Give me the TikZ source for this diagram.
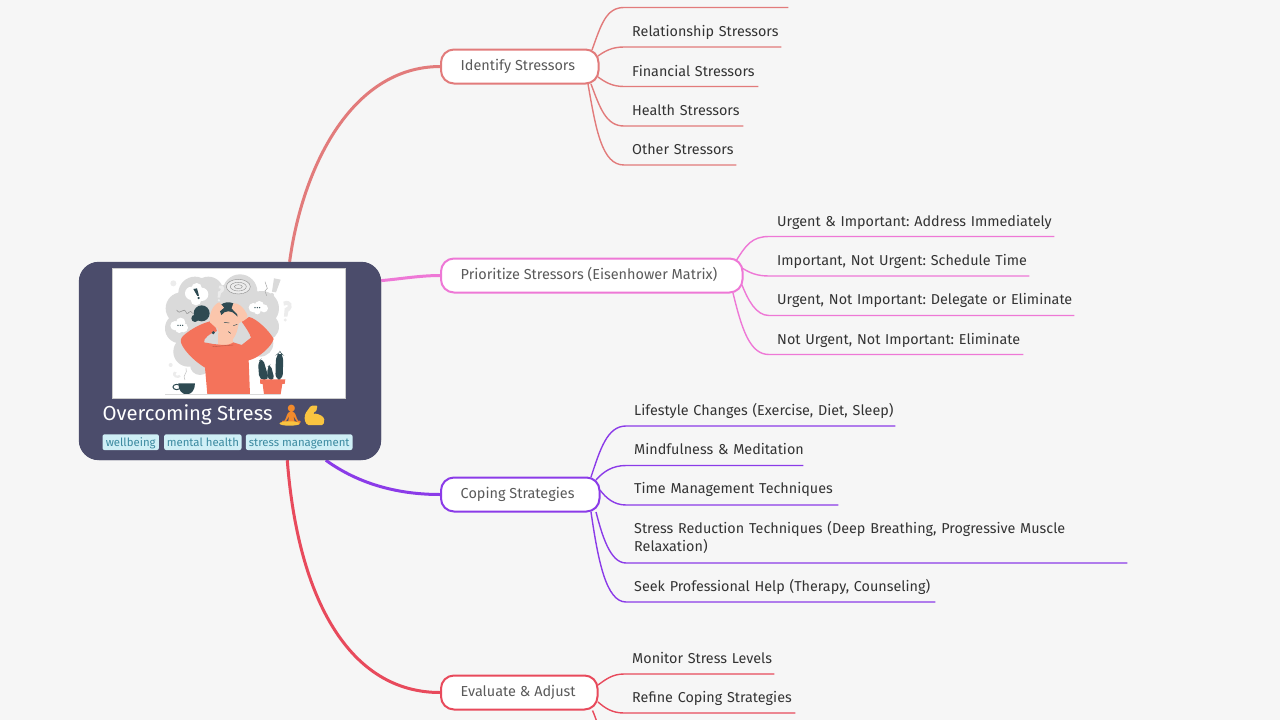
\documentclass[tikz,border=0pt]{standalone}
\usepackage{fontspec}
\setmainfont{Fira Sans}
\newfontfamily\emojifont{Noto Emoji}
\newcommand{\nohy}{\hyphenpenalty=10000 \exhyphenpenalty=10000 \frenchspacing}
\definecolor{bgc}{HTML}{F6F6F6}
\definecolor{rootc}{HTML}{4B4C6B}
\definecolor{cA}{HTML}{E27B7B}
\definecolor{cB}{HTML}{EE78D6}
\definecolor{cC}{HTML}{8B3BE8}
\definecolor{cD}{HTML}{E84A5C}
\definecolor{tagf}{HTML}{CFEFF6}
\definecolor{tagt}{HTML}{3C8AA0}
\definecolor{txt}{HTML}{333333}
\definecolor{btxt}{HTML}{5A5A5A}
\definecolor{cloud}{HTML}{DADADA}
\definecolor{cloudl}{HTML}{ECECEC}
\definecolor{shirt}{HTML}{F4735B}
\definecolor{dark}{HTML}{2E4A52}
\definecolor{skin}{HTML}{FBC6AC}
\definecolor{gold}{HTML}{F9C440}
\definecolor{lotus}{HTML}{F28A2C}
\tikzset{
  x=1pt,y=-1pt,
  branch/.style={draw=#1,line width=2pt,fill=white,rounded corners=13pt,minimum height=34pt,inner sep=0pt,anchor=west},
  btext/.style={anchor=west,inner sep=0pt,font=\fontsize{14.45}{18}\selectfont,text=btxt},
  leaf/.style={anchor=south west,inner xsep=0pt,inner ysep=10.3pt,text depth=0pt,align=left,font=\nohy\fontsize{14.35}{18.5}\selectfont,text=txt},
  leafup/.style={leaf,inner ysep=10.9pt},
  tag/.style={fill=tagf,rounded corners=2pt,inner sep=0pt,minimum height=15.7pt,text height=10.1pt,text depth=1.1pt,text=tagt,font=\fontsize{11.4}{13}\selectfont,anchor=west},
  trunk/.style={line width=3pt,#1},
  twig/.style={line width=1.4pt,#1}
}
\begin{document}
\begin{tikzpicture}
\useasboundingbox (0,0) rectangle (1280,720);
\fill[bgc] (0,0) rectangle (1280,720);
\begin{scope}
\clip (0,0) rectangle (1280,720);
% nodes
\node[fill=rootc,rounded corners=20pt,minimum width=302pt,minimum height=198pt,inner sep=0pt] (root) at (230,361) {};
\node[branch=cA,minimum width=157.5pt] (bA) at (440,66.5) {};
\node[btext] (tA) at (460.5,66) {Identify Stressors};
\node[branch=cB,minimum width=301.5pt] (bB) at (440,275.5) {};
\node[btext] (tB) at (460.5,274.3) {Prioritize Stressors (Eisenhower Matrix)};
\node[branch=cC,minimum width=158.5pt] (bC) at (440,494.5) {};
\node[btext] (tC) at (460.5,494) {Coping Strategies};
\node[branch=cD,minimum width=156.5pt] (bD) at (440,692.5) {};
\node[btext] (tD) at (460.5,692) {Evaluate \& Adjust};
% leaves
\node[leaf,text width=156pt] (a1) at (632,7.5) {};
\node[leaf,text width=149pt] (a2) at (632,47) {\mbox{Relationship Stressors}};
\node[leaf,text width=126pt] (a3) at (632,86.5) {\mbox{Financial Stressors}};
\node[leaf,text width=111pt] (a4) at (632,126) {\mbox{Health Stressors}};
\node[leaf,text width=104pt] (a5) at (632,165) {\mbox{Other Stressors}};
\node[leaf,text width=277pt] (b1) at (777,236.5) {\mbox{Urgent \& Important: Address Immediately}};
\node[leaf,text width=252pt] (b2) at (777,276) {\mbox{Important, Not Urgent: Schedule Time}};
\node[leafup,text width=297pt] (b3) at (777,315.5) {\mbox{Urgent, Not Important: Delegate or Eliminate}};
\node[leaf,text width=246pt] (b4) at (777,354.5) {\mbox{Not Urgent, Not Important: Eliminate}};
\node[leaf,text width=261pt] (c1) at (634,426) {\mbox{Lifestyle Changes (Exercise, Diet, Sleep)}};
\node[leafup,text width=169pt] (c2) at (634,465.5) {\mbox{Mindfulness \& Meditation}};
\node[leafup,text width=204pt] (c3) at (634,505) {\mbox{Time Management Techniques}};
\node[leafup,text width=493pt,text depth=18.5pt] (c4) at (634,563) {\mbox{Stress Reduction Techniques (Deep Breathing, Progressive Muscle}\\Relaxation)};
\node[leaf,text width=301pt] (c5) at (634,602) {\mbox{Seek Professional Help (Therapy, Counseling)}};
\node[leaf,text width=142pt] (d1) at (632,674) {\mbox{Monitor Stress Levels}};
\node[leaf,text width=163pt] (d2) at (632,713) {\mbox{Refine Coping Strategies}};
\coordinate (d3end) at (612,760);
% trunks
\draw[trunk=cA] (root.59.3) .. controls (302,170) and (350,67) .. (bA.west);
\draw[trunk=cB] (root.28.2) .. controls (400,279) and (420,275.5) .. (bB.west);
\draw[trunk=cC] (root.-46) .. controls (360,485) and (400,494.5) .. (bC.west);
\draw[trunk=cD] (root.-60.2) .. controls (298,600) and (350,692.5) .. (bD.west);
% root on top of the trunk ends
\fill[rootc,rounded corners=20pt] (root.north west) rectangle (root.south east);
% twigs
\foreach \n/\c/\sx/\sy/\ax/\ay/\bx/\by in {
 a1/cA/592/50/601/25/606/7.5, a2/cA/598/56/605/51/612/47, a3/cA/598/77/605/82/612/86.5,
 a4/cA/591/84/600/108/606/126, a5/cA/588/84/596/130/602/165,
 b1/cB/736/261/746/245/752/236.5, b2/cB/742/268/750/273/757/276, b3/cB/742/285/748/300/756/315.5, b4/cB/733/293/742/330/750/354.5,
 c1/cC/591/477/600/450/607/426, c2/cC/596/480/603/472/612/465.5, c3/cC/600/490/606/498/614/505, c4/cC/596/512/602/535/610/563, c5/cC/591/512/598/560/606/602,
 d1/cD/598/685/605/680/612/674, d2/cD/598/702/605/708/612/713}
 {\draw[twig=\c] (\sx,\sy) .. controls (\ax,\ay) and (\bx,\by) .. ([xshift=-8pt]\n.south west) -- (\n.south east);}
\draw[twig=cD] (bD.south east) ++(-6,0) .. controls (597,720) and (600,735) .. (d3end);
\end{scope}
% image
\node[draw=gray!40,line width=.6pt,fill=white,minimum width=233pt,minimum height=130pt,inner sep=0pt] (img) at (228.5,333.5) {};
\begin{scope}[shift={(150,265)},x=0.3333pt,y=-0.3333pt]
 % thought cloud
 \fill[cloud] (135,85) circle[radius=50] (175,80) circle[radius=45] (270,80) circle[radius=52] (95,130) circle[radius=48] (90,190) circle[radius=45] (335,130) circle[radius=52] (345,185) circle[radius=42] (115,260) circle[radius=45] (150,300) circle[radius=30] (330,235) circle[radius=40] (230,170) circle[radius=110];
 % bubbles
 \fill[white] (125,85) circle[radius=20] (155,88) circle[radius=20] (138,105) circle[radius=16] (140,70) circle[radius=16] (75,182) circle[radius=14] (92,172) circle[radius=14] (100,188) circle[radius=14] (88,192) circle[radius=12] (310,128) circle[radius=14] (328,122) circle[radius=14] (342,130) circle[radius=12] (322,138) circle[radius=10];
 \fill[dark] (130,72) -- (141,70) -- (147,92) -- (142,93) -- cycle (146,99) circle[radius=3.5];
 \fill[dark] (84,181) circle[radius=2.2] (91,181) circle[radius=2.2] (98,181) circle[radius=2.2] (315,128) circle[radius=2.2] (322,128) circle[radius=2.2] (329,128) circle[radius=2.2];
 \draw[gray!90,line width=.4pt,fill=cloudl] (265,65) ellipse[x radius=36,y radius=22];
 \draw[gray!90,line width=.4pt] (265,65) ellipse[x radius=24,y radius=13] (265,65) ellipse[x radius=12,y radius=6];
 \draw[gray!90,line width=.5pt] (80,135) .. controls (92,155) and (100,120) .. (110,145) .. controls (115,150) and (120,130) .. (128,145);
 % loose marks
 \fill[cloudl] (208,62) .. controls (225,55) and (228,80) .. (213,85) -- (210,98) -- (203,98) -- (204,80) .. controls (215,78) and (215,68) .. (206,70) -- cycle (207,106) circle[radius=4];
 \fill[cloud] (372,40) -- (392,44) -- (378,82) -- (366,80) -- cycle (366,90) circle[radius=6];
 \fill[cloudl] (400,110) .. controls (425,100) and (435,125) .. (415,140) -- (412,155) -- (402,155) -- (404,130) .. controls (420,125) and (415,115) .. (402,122) -- cycle (406,165) circle[radius=5];
 \fill[cloudl] (70,55) circle[radius=9] (62,300) circle[radius=6];
 \fill[cloudl] (72,320) .. controls (60,335) and (85,345) .. (92,335) -- (88,330) .. controls (80,335) and (72,330) .. (80,322) -- cycle;
 \draw[gray!70,line width=.5pt] (345,50) -- (352,70) -- (345,78) -- (350,92);
 % hair behind
 \fill[dark] (155,145) circle[radius=24] (135,160) circle[radius=11];
 % neck and face
 \fill[skin] (205,205) -- (205,240) -- (250,240) -- (250,205) -- cycle;
 \fill[skin] (205,135) .. controls (220,125) and (260,130) .. (268,150) .. controls (268,190) and (255,225) .. (238,230) .. controls (220,230) and (205,210) .. (200,180) -- cycle;
 % shirt
 \fill[shirt] (172,388) -- (165,308) .. controls (135,290) and (105,260) .. (95,238) .. controls (90,228) and (92,220) .. (100,212) .. controls (125,190) and (160,172) .. (190,167) -- (201,198) .. controls (180,205) and (160,220) .. (162,232) -- (190,237) .. controls (205,238) and (235,245) .. (250,232) -- (275,240) -- (303,218) .. controls (300,205) and (285,185) .. (275,170) -- (297,156) .. controls (320,160) and (360,200) .. (371,222) .. controls (365,245) and (325,280) .. (296,286) -- (300,388) -- cycle;
 \draw[shirt!75!black,line width=.4pt] (188,245) -- (250,240);
 % hair on top
 \fill[dark] (206,128) .. controls (218,104) and (262,106) .. (266,138) -- (268,160) -- (258,150) .. controls (245,135) and (225,135) .. (214,150) -- cycle;
 % forearms and hands
 \fill[skin] (180,172) .. controls (176,150) and (188,118) .. (208,112) -- (222,128) -- (206,142) -- (200,190) -- cycle;
 \fill[skin] (275,170) .. controls (285,165) and (295,160) .. (292,150) .. controls (280,125) and (265,113) .. (250,115) -- (245,130) -- (262,148) -- (262,178) -- cycle;
 \fill[dark] (190,203) circle[radius=5];
 \draw[dark,line width=.5pt] (222,172) -- (238,174) (250,182) -- (262,178) (235,200) -- (242,205);
 % plant
 \fill[dark,rounded corners=5pt] (328,345) -- (324,290) -- (338,278) -- (358,345) -- cycle;
 \fill[dark,rounded corners=4pt] (353,345) -- (352,305) -- (362,298) -- (374,345) -- cycle;
 \fill[dark,rounded corners=6pt] (376,345) -- (378,270) -- (390,260) -- (400,270) -- (398,345) -- cycle;
 \fill[shirt] (330,343) -- (406,343) -- (404,357) -- (397,357) -- (392,388) -- (342,388) -- (338,357) -- (331,357) -- cycle;
 % cup
 \fill[dark] (85,355) -- (135,355) .. controls (135,375) and (125,388) .. (110,388) .. controls (95,388) and (85,375) .. (85,355) -- cycle;
 \draw[dark,line width=1pt] (80,366) ellipse[x radius=11,y radius=8];
 \draw[gray!50,line width=.5pt] (105,345) .. controls (95,330) and (115,325) .. (108,310);
 \draw[cloud,line width=.5pt] (45,389) -- (390,389);
\end{scope}
% title and tags
\node[anchor=base west,inner sep=0pt,text=white,font=\fontsize{20.3}{24}\selectfont] (title) at (102.5,420) {Overcoming Stress};
\node[anchor=base west,inner sep=0pt,text=lotus,font=\emojifont\fontsize{21}{24}\selectfont] (em1) at (278,422) {🧘};
\fill[gold] (289.5,423.5) ellipse[x radius=10,y radius=2.2];
\fill[gold,rounded corners=1.5pt] (304.5,420) -- (307,425) -- (323.5,425) -- (324.5,418) -- (317,413.5) -- (312.5,414) -- (315.5,411) -- (318,405.5) -- (311,405.5) -- (305,414) -- cycle;
\node[anchor=base west,inner sep=0pt,text=gold,font=\emojifont\fontsize{17}{24}\selectfont] (em2) at (304,421.5) {💪};
\node[tag,minimum width=56.4pt] (t1) at (102.3,442.2) {wellbeing};
\node[tag,minimum width=77.3pt] (t2) at (164,442.2) {mental health};
\node[tag,minimum width=106.6pt] (t3) at (245.7,442.2) {stress management};
\end{tikzpicture}
\end{document}
